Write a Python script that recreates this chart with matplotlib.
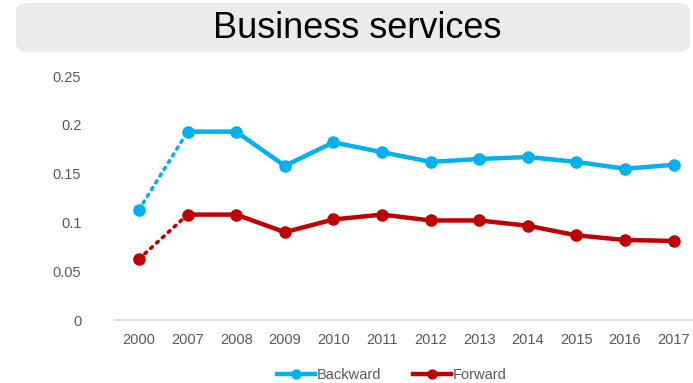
import matplotlib
matplotlib.use("Agg")
import matplotlib.pyplot as plt
from matplotlib.patches import FancyBboxPatch

plt.rcParams["font.family"] = ["Liberation Sans", "DejaVu Sans"]

years = ["2000", "2007", "2008", "2009", "2010", "2011", "2012",
         "2013", "2014", "2015", "2016", "2017"]
backward = [0.113, 0.193, 0.193, 0.158, 0.182, 0.172, 0.162,
            0.165, 0.167, 0.162, 0.155, 0.159]
forward = [0.0625, 0.108, 0.108, 0.090, 0.103, 0.108, 0.102,
           0.102, 0.0966, 0.0868, 0.082, 0.081]
yticks = [0, 0.05, 0.1, 0.15, 0.2, 0.25]
ytick_labels = ["0", "0.05", "0.1", "0.15", "0.2", "0.25"]

BLUE = "#00B0F0"
RED = "#C00000"
GREY = "#595959"

W, H = 693, 383
fig = plt.figure(figsize=(W / 100, H / 100), dpi=100)

# title banner
fig.patches.append(FancyBboxPatch(
    (16 / W, 1 - 52 / H), 674 / W, 49 / H,
    boxstyle="round,pad=0,rounding_size=0.02",
    transform=fig.transFigure, facecolor="#EBEBEB", edgecolor="none"))
fig.text(357 / W, 1 - 28 / H, "Business services", ha="center", va="center",
         fontsize=26, color="black")

ax = fig.add_axes([114.7 / W, 1 - 320 / H, (693 - 114.7) / W, 244 / H])
x = list(range(len(years)))

for vals, color, name in ((backward, BLUE, "Backward"), (forward, RED, "Forward")):
    # gap between 2000 and 2007 shown dotted
    ax.plot(x[:2], vals[:2], color=color, lw=2.6, ls=(0, (0.6, 1.6)),
            dash_capstyle="round", solid_capstyle="round")
    ax.plot(x[0], vals[0], "o", color=color, ms=8)
    ax.plot(x[1:], vals[1:], color=color, lw=3.2, marker="o", ms=8,
            label=name, solid_joinstyle="round")

ax.set_xlim(-0.5, 11.4)
ax.set_ylim(0, 0.25)
ax.set_xticks(x)
ax.set_xticklabels(years)
ax.set_yticks(yticks)
ax.set_yticklabels(ytick_labels)
ax.tick_params(length=0, labelsize=10.5, colors=GREY, pad=10)
ax.tick_params(axis="x", pad=9)
ax.tick_params(axis="y", pad=24)
for side in ("top", "right", "left"):
    ax.spines[side].set_visible(False)
ax.spines["bottom"].set_color("#D9D9D9")
ax.spines["bottom"].set_linewidth(1.2)
ax.set_facecolor("none")

ax.legend(loc="center", bbox_to_anchor=(392 / W, 1 - 375 / H),
          bbox_transform=fig.transFigure, ncol=2, frameon=False,
          fontsize=10.5, handlelength=2.6, handletextpad=0.1,
          columnspacing=2.2, labelcolor=GREY, markerscale=0.8)

fig.savefig("out.png", dpi=100)
